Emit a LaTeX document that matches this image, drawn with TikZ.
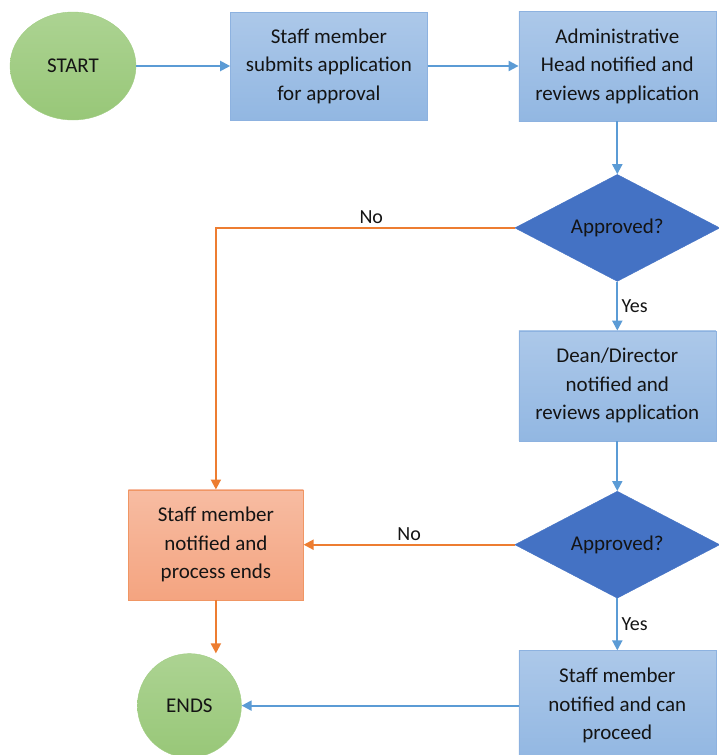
\documentclass[tikz,border=0pt]{standalone}
\usepackage{fontspec}
\setmainfont{Carlito}
\usepackage{xcolor}
\usepackage{tikz}
\usetikzlibrary{
  arrows.meta,
  positioning,
  shapes.geometric
}
\definecolor{boxblue}{RGB}{172,200,233}
\definecolor{boxbluedark}{RGB}{146,183,226}
\definecolor{boxedge}{RGB}{141,178,224}
\definecolor{decblue}{RGB}{68,114,196}
\definecolor{boxorange}{RGB}{247,188,162}
\definecolor{boxorangedark}{RGB}{244,164,128}
\definecolor{orangeedge}{RGB}{240,150,100}
\definecolor{lineorange}{RGB}{237,125,49}
\definecolor{lineblue}{RGB}{91,155,213}
\definecolor{termgreen}{RGB}{172,211,146}
\definecolor{termgreendark}{RGB}{152,199,120}
\definecolor{termedge}{RGB}{160,205,130}
\definecolor{inktext}{RGB}{20,20,20}

\begin{document}
\begin{tikzpicture}[
  x=1pt, y=1pt,
  every node/.style={font=\fontsize{21}{28.5}\selectfont,text=inktext},
  proc/.style={draw=boxedge,top color=boxblue,bottom color=boxbluedark,
               minimum width=197pt,minimum height=108pt,align=center,inner sep=0pt},
  stopbox/.style={draw=orangeedge,top color=boxorange,bottom color=boxorangedark,
                  minimum width=175pt,minimum height=110pt,align=center,inner sep=0pt},
  dec/.style={diamond,aspect=2,draw=decblue,fill=decblue,minimum width=205pt,
              minimum height=107pt,inner sep=0pt},
  term/.style={ellipse,draw=termedge,top color=termgreen,bottom color=termgreendark,
               inner sep=0pt},
  edge/.style={-{Triangle[length=10pt,width=10pt]},line width=2pt,draw=lineblue},
  noedge/.style={edge,draw=lineorange},
  lbl/.style={font=\fontsize{20}{22}\selectfont},
]
\useasboundingbox (0,0) rectangle (718,-755);

\node[term, minimum width=126pt, minimum height=108pt] (start) at (73,-66) {START};
\node[proc, right=94pt of start]  (submit)  {Staff member\\submits application\\for approval};
\node[proc, right=91pt of submit, minimum height=110pt] (adminhead)
  {Administrative\\Head notified and\\reviews application};
\node[dec,  below=53pt of adminhead] (approve1) {Approved?};
\node[proc, below=49pt of approve1, minimum height=110pt] (dean)
  {Dean/Director\\notified and\\reviews application};
\node[dec,  below=50pt of dean]      (approve2) {Approved?};
\node[stopbox, left=211pt of approve2] (rejected)
  {Staff member\\notified and\\process ends};
\node[proc, below=52pt of approve2, minimum height=110pt] (proceed)
  {Staff member\\notified and can\\proceed};
\node[term, left=277pt of proceed, minimum width=104pt, minimum height=104pt] (ends) {ENDS};

\draw[edge] (start) -- (submit);
\draw[edge] (submit) -- (adminhead);
\draw[edge] (adminhead) -- (approve1);
\draw[edge] (approve1) -- (dean) node[midway,right,lbl]{Yes};
\draw[edge] (dean) -- (approve2);
\draw[edge] (approve2) -- (proceed) node[midway,right,lbl]{Yes};
\draw[noedge] (approve1.west) -- node[pos=0.48,above,lbl]{No} (approve1.west -| rejected.north)
  -- (rejected.north);
\draw[noedge] (approve2) -- (rejected) node[midway,above,lbl]{No};
\draw[noedge] (rejected.south) -- (rejected.south |- ends.north);
\draw[edge] (proceed) -- (ends);
\end{tikzpicture}
\end{document}
